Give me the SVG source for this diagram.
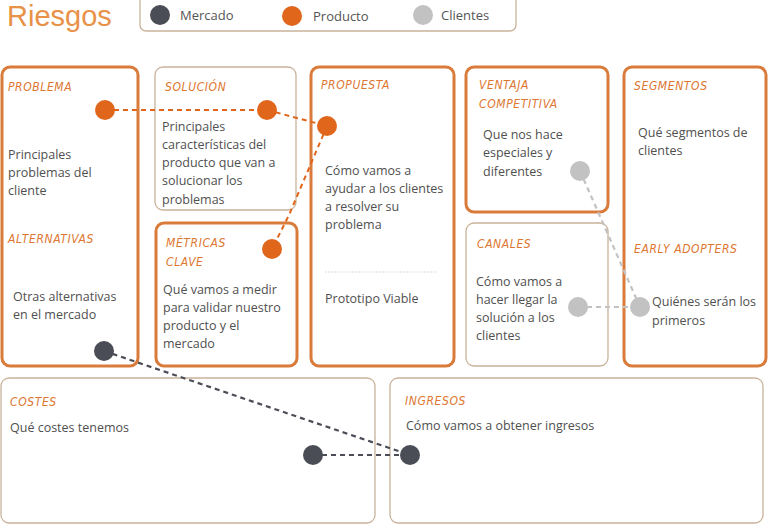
<svg xmlns="http://www.w3.org/2000/svg" width="768" height="530" viewBox="0 0 768 530">
<style>
.thick{fill:#fff;stroke:#d97b3a;stroke-width:3}
.thin{fill:#fff;stroke:#c9b39a;stroke-width:1.3}
.lbl{font-family:"DejaVu Sans Condensed","DejaVu Sans",sans-serif;font-style:italic;font-size:12px;fill:#dd7630;letter-spacing:0.6px}
.txt{font-family:"Open Sans","Liberation Sans",sans-serif;font-size:12.5px;fill:#505050}
.leg{font-family:"Open Sans","Liberation Sans",sans-serif;font-size:13px;fill:#555}
.o{fill:#e0661c}
.d{fill:#4a4d55}
.g{fill:#c2c2c2}
.co{stroke:#e0661c;stroke-width:2;stroke-dasharray:5 4;fill:none}
.cd{stroke:#4a4d55;stroke-width:2.2;stroke-dasharray:5 4;fill:none}
.cg{stroke:#c2c2c2;stroke-width:2.2;stroke-dasharray:5 4;fill:none}
</style>
<rect width="768" height="530" fill="#fff"/>
<g id="header">
<text x="7" y="26" font-family="Liberation Sans,Arial,sans-serif" font-size="29" fill="#e89148">Riesgos</text>
<rect x="140" y="-10" width="376" height="41" rx="6" fill="#fff" stroke="#c9b39a" stroke-width="1.3"/>
<circle cx="160" cy="15" r="10" class="d"/><text x="180" y="20" class="leg">Mercado</text>
<circle cx="292" cy="16" r="10" class="o"/><text x="313" y="21" class="leg">Producto</text>
<circle cx="423" cy="15" r="10" class="g"/><text x="441" y="20" class="leg">Clientes</text>
</g>
<g id="problema">
<rect x="2" y="67" width="136" height="299" rx="8" class="thick"/>
<text x="8" y="91" class="lbl">PROBLEMA</text>
<text class="txt"><tspan x="8" y="159">Principales</tspan><tspan x="8" y="177">problemas del</tspan><tspan x="8" y="195">cliente</tspan></text>
<text x="8" y="243" class="lbl">ALTERNATIVAS</text>
<text class="txt"><tspan x="13" y="301">Otras alternativas</tspan><tspan x="13" y="319">en el mercado</tspan></text>
</g>
<g id="solucion">
<rect x="155" y="67" width="141" height="143" rx="8" class="thin"/>
<text x="165" y="91" class="lbl">SOLUCIÓN</text>
<text class="txt"><tspan x="162" y="131">Principales</tspan><tspan x="162" y="149">características del</tspan><tspan x="162" y="167">producto que van a</tspan><tspan x="162" y="185">solucionar los</tspan><tspan x="162" y="204">problemas</tspan></text>
</g>
<g id="metricas">
<rect x="156" y="223" width="141" height="143" rx="8" class="thick"/>
<text x="166" y="247" class="lbl">MÉTRICAS</text>
<text x="166" y="266" class="lbl">CLAVE</text>
<text class="txt"><tspan x="163" y="294">Qué vamos a medir</tspan><tspan x="163" y="312">para validar nuestro</tspan><tspan x="163" y="330">producto y el</tspan><tspan x="163" y="348">mercado</tspan></text>
</g>
<g id="propuesta">
<rect x="311" y="67" width="143" height="299" rx="8" class="thick" stroke="#e8913f"/>
<text x="321" y="89" class="lbl">PROPUESTA</text>
<text class="txt"><tspan x="325" y="175">Cómo vamos a</tspan><tspan x="325" y="193">ayudar a los clientes</tspan><tspan x="325" y="211">a resolver su</tspan><tspan x="325" y="229">problema</tspan></text>
<line x1="325" y1="272" x2="437" y2="272" stroke="#ddd" stroke-width="1" stroke-dasharray="2 1"/>
<text x="325" y="303" class="txt">Prototipo Viable</text>
</g>
<g id="ventaja">
<rect x="466" y="67" width="142" height="145" rx="8" class="thick" stroke="#e8913f"/>
<text x="479" y="89" class="lbl">VENTAJA</text>
<text x="479" y="108" class="lbl">COMPETITIVA</text>
<text class="txt"><tspan x="483" y="139">Que nos hace</tspan><tspan x="483" y="157">especiales y</tspan><tspan x="483" y="176">diferentes</tspan></text>
</g>
<g id="canales">
<rect x="466" y="223" width="142" height="143" rx="8" class="thin"/>
<text x="477" y="248" class="lbl">CANALES</text>
<text class="txt"><tspan x="476" y="286">Cómo vamos a</tspan><tspan x="476" y="304">hacer llegar la</tspan><tspan x="476" y="322">solución a los</tspan><tspan x="476" y="340">clientes</tspan></text>
</g>
<g id="segmentos">
<rect x="624" y="67" width="142" height="299" rx="8" class="thick" stroke="#e8913f"/>
<text x="634" y="90" class="lbl">SEGMENTOS</text>
<text class="txt"><tspan x="638" y="137">Qué segmentos de</tspan><tspan x="638" y="155">clientes</tspan></text>
<text x="634" y="253" class="lbl">EARLY ADOPTERS</text>
<text class="txt"><tspan x="652" y="306">Quiénes serán los</tspan><tspan x="652" y="325">primeros</tspan></text>
</g>
<g id="costes">
<rect x="1" y="378" width="374" height="145" rx="8" class="thin" stroke="#bfa58a"/>
<text x="10" y="406" class="lbl">COSTES</text>
<text x="10" y="432" class="txt">Qué costes tenemos</text>
</g>
<g id="ingresos">
<rect x="390" y="378" width="373" height="145" rx="8" class="thin"/>
<text x="405" y="405" class="lbl">INGRESOS</text>
<text x="406" y="430" class="txt">Cómo vamos a obtener ingresos</text>
</g>
<g id="connectors">
<line x1="105" y1="110" x2="267" y2="110" class="co"/>
<line x1="267" y1="110" x2="327" y2="126" class="co"/>
<path d="M327 126 L289 215 L272 249" class="co"/>
<line x1="580" y1="171" x2="640" y2="307" class="cg"/>
<line x1="578" y1="307" x2="640" y2="307" class="cg"/>
<line x1="104" y1="351" x2="410" y2="455" class="cd"/>
<line x1="313" y1="455" x2="410" y2="455" class="cd"/>
</g>
<g id="dots">
<circle cx="105" cy="110" r="10" class="o"/>
<circle cx="267" cy="110" r="10" class="o"/>
<circle cx="327" cy="126" r="10" class="o"/>
<circle cx="272" cy="249" r="10" class="o"/>
<circle cx="104" cy="351" r="10" class="d"/>
<circle cx="313" cy="455" r="10" class="d"/>
<circle cx="410" cy="455" r="10" class="d"/>
<circle cx="580" cy="171" r="10" class="g"/>
<circle cx="578" cy="307" r="10" class="g"/>
<circle cx="640" cy="307" r="10" class="g"/>
</g>
</svg>
